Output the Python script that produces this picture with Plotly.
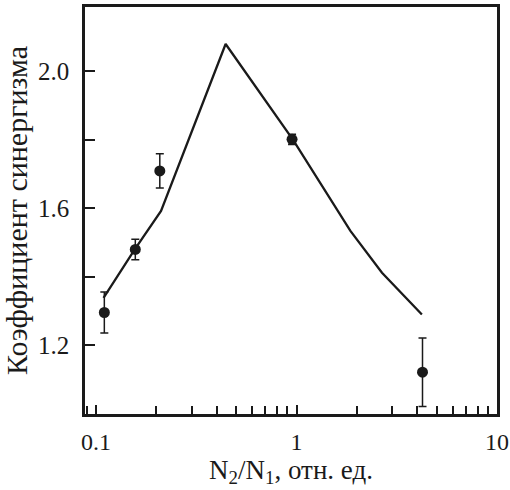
import plotly.graph_objects as go
import math

# Experimental points
pts_x = [0.11, 0.157, 0.208, 0.95, 4.25]
pts_y = [1.296, 1.480, 1.709, 1.801, 1.122]
pts_err = [0.06, 0.03, 0.05, 0.015, 0.10]

# Calculated curve
line_x = [0.109, 0.156, 0.211, 0.280, 0.443, 0.963, 1.857, 2.669, 4.22]
line_y = [1.339, 1.480, 1.592, 1.778, 2.079, 1.799, 1.534, 1.412, 1.290]

x_ticks = [0.1, 1, 10]
x_ticktext = ["0.1", "1", "10"]
x_minor = [0.09, 0.2, 0.3, 0.4, 0.5, 0.6, 0.7, 0.8, 0.9, 2, 3, 4, 5, 6, 7, 8, 9]
y_ticks = [1.2, 1.6, 2.0]
y_ticktext = ["1.2", "1.6", "2.0"]
y_minor = [1.4, 1.8]

font = "Liberation Serif"

fig = go.Figure()
fig.add_trace(go.Scatter(
    x=line_x, y=line_y, mode="lines",
    line=dict(color="#1a1a1a", width=2.3), showlegend=False,
))
fig.add_trace(go.Scatter(
    x=pts_x, y=pts_y, mode="markers",
    marker=dict(color="#1a1a1a", size=11),
    error_y=dict(type="data", array=pts_err, color="#1a1a1a", thickness=1.5, width=4),
    showlegend=False,
))

fig.update_layout(
    width=510, height=490,
    margin=dict(l=85, r=13, t=7, b=76),
    paper_bgcolor="white", plot_bgcolor="white",
    font=dict(family=font, size=24, color="#1a1a1a"),
)
fig.update_xaxes(
    type="log", range=[math.log10(0.0881), 1.0],
    tickvals=x_ticks, ticktext=x_ticktext,
    ticks="inside", ticklen=9, tickwidth=1.5, tickcolor="#1a1a1a",
    minor=dict(tickvals=x_minor, ticks="inside", ticklen=8, tickwidth=1.5, tickcolor="#1a1a1a"),
    showline=True, linewidth=2.5, linecolor="#1a1a1a", mirror=True,
    showgrid=False, zeroline=False, automargin=False,
    tickfont=dict(family=font, size=24),
    ticklabelstandoff=4, ticklabeloverflow="allow",
    title=dict(text="N<sub>2</sub>/N<sub>1</sub>, отн. ед.", font=dict(family=font, size=27), standoff=6),
)
fig.update_yaxes(
    range=[1.0, 2.187],
    tickvals=y_ticks, ticktext=y_ticktext,
    ticks="inside", ticklen=10, tickwidth=1.5, tickcolor="#1a1a1a",
    minor=dict(tickvals=y_minor, ticks="inside", ticklen=10, tickwidth=1.5, tickcolor="#1a1a1a"),
    showline=True, linewidth=2.5, linecolor="#1a1a1a", mirror=True,
    showgrid=False, zeroline=False, automargin=False,
    tickfont=dict(family=font, size=25),
    ticklabelstandoff=8,
    title=dict(text="Коэффициент синергизма", font=dict(family=font, size=30), standoff=8),
)
fig.write_html(
    "out.html",
    config={"displayModeBar": False},
    post_script="document.body.style.margin='0';document.body.style.overflow='hidden';",
)
